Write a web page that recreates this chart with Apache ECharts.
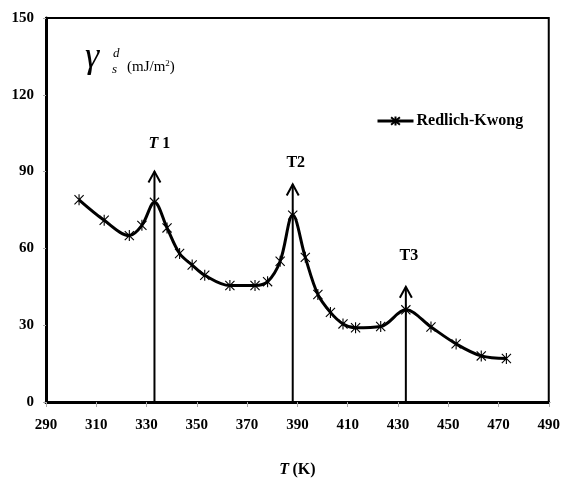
<!DOCTYPE html>
<html>
<head>
<meta charset="utf-8">
<script src="https://cdn.jsdelivr.net/npm/echarts@6/dist/echarts.min.js"></script>
<style>
  html, body { margin: 0; padding: 0; background: #fff; }
  #chart { width: 563px; height: 483px; }
</style>
</head>
<body>
<div id="chart"></div>
<script>
// Dispersive surface energy vs temperature (Redlich-Kwong)
const temperatures = [303.15, 313.15, 323.15, 328.15, 333.15, 338.15, 343.15, 348.15, 353.15,
  363.15, 373.15, 378.15, 383.15, 388.15, 393.15, 398.15, 403.15, 408.15, 413.15,
  423.15, 433.15, 443.15, 453.15, 463.15, 473.15];
const gammaValues = [79, 71, 65, 69, 78, 68, 58, 53.5, 49.5,
  45.5, 45.5, 47, 55, 73, 56.5, 42, 35, 30.5, 29,
  29.5, 36, 29.3, 22.7, 18, 17];

// Transition markers: temperature, arrow height, label
const transitionT = [333.15, 388.15, 433.15];
const transitionTop = [90, 85, 45];
const transitionNames = ['T1', 'T2', 'T3'];

const xTicks = { min: 290, max: 490, interval: 20 };
const yTicks = { min: 0, max: 150, interval: 30 };

const seriesName = 'Redlich-Kwong';

const serif = '"Liberation Serif", "Times New Roman", serif';
const starPath = 'path://M0,0L10,10M10,0L0,10M5,-1L5,11';
const labelLift = [28, 22, 31];

const chart = echarts.init(document.getElementById('chart'), null, { renderer: 'canvas' });

chart.setOption({
  animation: false,
  backgroundColor: '#fff',
  grid: {
    left: 46, right: 13, top: 18, bottom: 73,
    show: true, borderColor: '#000', borderWidth: 2, backgroundColor: 'transparent'
  },
  legend: {
    data: [seriesName],
    left: 371, top: 108,
    itemWidth: 36, itemHeight: 11, itemGap: 2,
    lineStyle: { width: 3, color: '#000' },
    textStyle: { fontFamily: serif, fontWeight: 'bold', fontSize: 16, color: '#000', padding: [0, 0, 0, -2] }
  },
  xAxis: {
    type: 'value',
    min: xTicks.min, max: xTicks.max, interval: xTicks.interval,
    name: '{i|T} {n|(K)}',
    nameLocation: 'middle', nameGap: 60,
    nameTextStyle: {
      rich: {
        i: { fontFamily: serif, fontStyle: 'italic', fontWeight: 'bold', fontSize: 16, color: '#000' },
        n: { fontFamily: serif, fontWeight: 'bold', fontSize: 16, color: '#000' }
      }
    },
    axisLine: { lineStyle: { color: '#000', width: 3 } },
    axisTick: { show: true, inside: false, length: 5, lineStyle: { color: '#aaa', width: 1 } },
    axisLabel: { margin: 16, fontFamily: serif, fontWeight: 'bold', fontSize: 15, color: '#000' },
    splitLine: { show: false }
  },
  yAxis: {
    type: 'value',
    min: yTicks.min, max: yTicks.max, interval: yTicks.interval,
    axisLine: { show: true, lineStyle: { color: '#000', width: 3 } },
    axisTick: { show: true, inside: false, length: 3, lineStyle: { color: '#aaa', width: 1 } },
    axisLabel: { margin: 12, fontFamily: serif, fontWeight: 'bold', fontSize: 15, color: '#000' },
    splitLine: { show: false }
  },
  graphic: [
    {
      type: 'text', left: 85, top: 40,
      style: { text: 'γ', font: 'italic 36px ' + serif, fill: '#000' }
    },
    {
      type: 'text', left: 113, top: 47,
      style: { text: 'd', font: 'italic 13px ' + serif, fill: '#000' }
    },
    {
      type: 'text', left: 112, top: 63,
      style: { text: 's', font: 'italic 13px ' + serif, fill: '#000' }
    },
    {
      type: 'text', left: 127, top: 59,
      style: {
        text: '{a|(mJ/m}{b|2}{a|)}',
        rich: {
          a: { fontFamily: serif, fontSize: 15, color: '#000' },
          b: { fontFamily: serif, fontSize: 9, color: '#000', verticalAlign: 'top', padding: [0, 0, 7, 0] }
        }
      }
    }
  ],
  series: [
    {
      type: 'custom',
      name: 'transitions',
      silent: true,
      z: 1,
      data: transitionT.map((t, i) => [t, transitionTop[i], i]),
      renderItem: function (params, api) {
        const t = api.value(0), top = api.value(1), idx = api.value(2);
        const base = api.coord([t, 0]);
        const tip = api.coord([t, top]);
        const name = transitionNames[idx];
        const italic = idx === 0;
        return {
          type: 'group',
          children: [
            {
              type: 'line',
              shape: { x1: base[0], y1: base[1], x2: tip[0], y2: tip[1] },
              style: { stroke: '#000', lineWidth: 2 }
            },
            {
              type: 'polyline',
              shape: { points: [[tip[0] - 6, tip[1] + 11], [tip[0], tip[1]], [tip[0] + 6, tip[1] + 11]] },
              style: { stroke: '#000', lineWidth: 2, fill: 'none' }
            },
            {
              type: 'text',
              x: tip[0] + (italic ? 5 : 3),
              y: tip[1] - labelLift[idx],
              style: {
                text: italic ? '{i|T}{n| 1}' : '{n|' + name + '}',
                align: 'center', verticalAlign: 'middle',
                rich: {
                  i: { fontFamily: serif, fontStyle: 'italic', fontWeight: 'bold', fontSize: 16, fill: '#000' },
                  n: { fontFamily: serif, fontWeight: 'bold', fontSize: 16, fill: '#000' }
                }
              }
            }
          ]
        };
      }
    },
    {
      type: 'line',
      name: seriesName,
      z: 3,
      smooth: 0.35,
      data: temperatures.map((t, i) => [t, gammaValues[i]]),
      symbol: starPath,
      symbolSize: 11,
      symbolKeepAspect: true,
      lineStyle: { color: '#000', width: 3 },
      itemStyle: { color: '#000', borderColor: '#000', borderWidth: 1.1 }
    }
  ]
});
</script>
</body>
</html>
